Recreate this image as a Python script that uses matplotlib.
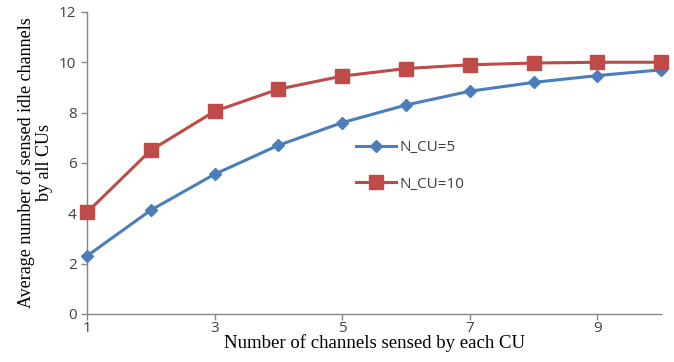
import numpy as np
import matplotlib.pyplot as plt

# channels sensed by each CU
channels = [1, 2, 3, 4, 5, 6, 7, 8, 9, 10]
# average number of sensed idle channels
n_cu_5 = [2.3, 4.12, 5.55, 6.7, 7.6, 8.3, 8.85, 9.2, 9.47, 9.7]
n_cu_10 = [4.03, 6.5, 8.05, 8.93, 9.45, 9.75, 9.9, 9.97, 10.0, 10.0]
x_ticks = [1, 3, 5, 7, 9]
y_ticks = [0, 2, 4, 6, 8, 10, 12]

blue = '#4A7EBB'
red = '#BE4B48'
tick_col = '#404040'

fig = plt.figure(figsize=(6.74, 3.62), dpi=100)
ax = fig.add_axes([0.129, 0.133, 0.852, 0.834])

ax.plot(channels, n_cu_5, color=blue, lw=2.2, marker='D', ms=6.5,
        mec=blue, mfc=blue, label='N_CU=5', clip_on=False, zorder=3)
ax.plot(channels, n_cu_10, color=red, lw=2.2, marker='s', ms=9.5,
        mec=red, mfc=red, label='N_CU=10', clip_on=False, zorder=3)

ax.set_xlim(1, 10)
ax.set_ylim(0, 12)
ax.set_xticks(x_ticks)
ax.set_yticks(y_ticks)

for s in ['top', 'right']:
    ax.spines[s].set_visible(False)
for s in ['left', 'bottom']:
    ax.spines[s].set_color('#868686')
    ax.spines[s].set_linewidth(1.0)

ax.tick_params(axis='both', colors='#868686', length=4, width=1,
               labelcolor=tick_col, labelsize=11)
for lab in ax.get_xticklabels() + ax.get_yticklabels():
    lab.set_fontfamily('Open Sans')
ax.tick_params(axis='x', pad=1)

ax.set_xlabel('Number of channels sensed by each CU', family='Liberation Serif',
              fontsize=13.5, labelpad=-1)
ax.set_ylabel('Average number of sensed idle channels\nby all CUs',
              family='Liberation Serif', fontsize=13, labelpad=4, linespacing=1.1)

leg = ax.legend(loc='upper left', bbox_to_anchor=(0.445, 0.62), frameon=False,
                handlelength=2.6, labelspacing=1.4, handletextpad=0.2,
                prop={'family': 'Open Sans', 'size': 11})
for t in leg.get_texts():
    t.set_color(tick_col)

fig.savefig('out.png', dpi=100)
